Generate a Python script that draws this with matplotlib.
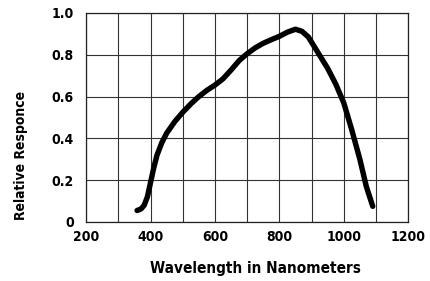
import matplotlib
matplotlib.use("Agg")
import matplotlib.pyplot as plt
from matplotlib.ticker import MultipleLocator, FixedLocator

wavelength = [358, 370, 380, 390, 400, 410, 420, 435, 450, 475, 500, 525, 550, 575, 600, 625,
              650, 675, 700, 725, 750, 775, 800, 825, 850, 870, 890, 910, 930, 950, 975,
              1000, 1025, 1050, 1070, 1090]
response = [0.055, 0.062, 0.08, 0.12, 0.19, 0.26, 0.32, 0.38, 0.425, 0.48, 0.525, 0.565, 0.60,
            0.63, 0.655, 0.685, 0.727, 0.772, 0.805, 0.833, 0.855, 0.872, 0.888, 0.908, 0.922,
            0.912, 0.885, 0.835, 0.785, 0.735, 0.66, 0.57, 0.44, 0.30, 0.17, 0.075]

x_ticks = [200, 400, 600, 800, 1000, 1200]
y_ticks = [0, 0.2, 0.4, 0.6, 0.8, 1.0]
y_tick_labels = ["0", "0.2", "0.4", "0.6", "0.8", "1.0"]

font = ['Liberation Sans Narrow', 'DejaVu Sans']

fig = plt.figure(figsize=(4.31, 2.81), dpi=100)
ax = fig.add_axes([0.2, 0.21, 0.747, 0.744])
ax.plot(wavelength, response, color='black', lw=3.9, solid_capstyle='round', solid_joinstyle='round')
ax.set_xlim(200, 1200)
ax.set_ylim(0, 1.0)
ax.xaxis.set_major_locator(FixedLocator(x_ticks))
ax.xaxis.set_minor_locator(MultipleLocator(100))
ax.yaxis.set_major_locator(FixedLocator(y_ticks))
ax.set_yticklabels(y_tick_labels)
ax.grid(True, which='both', color='#333333', lw=0.8)
ax.tick_params(axis='x', which='both', length=0, pad=6)
ax.tick_params(axis='y', which='both', length=0, pad=9)
for lab in ax.get_xticklabels() + ax.get_yticklabels():
    lab.set_fontfamily(font)
    lab.set_fontweight('bold')
    lab.set_fontstretch('condensed')
    lab.set_fontsize(10)
for s in ax.spines.values():
    s.set_color('#222222')
    s.set_linewidth(0.9)
ax.set_xlabel("Wavelength in Nanometers", family=font, fontweight='bold',
              fontstretch='condensed', fontsize=11)
ax.set_ylabel("Relative Responce", family=font, fontweight='bold',
              fontstretch='condensed', fontsize=10)
ax.xaxis.set_label_coords(0.525, -0.187)
ax.yaxis.set_label_coords(-0.18, 0.32)
fig.savefig("out.png", dpi=100)
